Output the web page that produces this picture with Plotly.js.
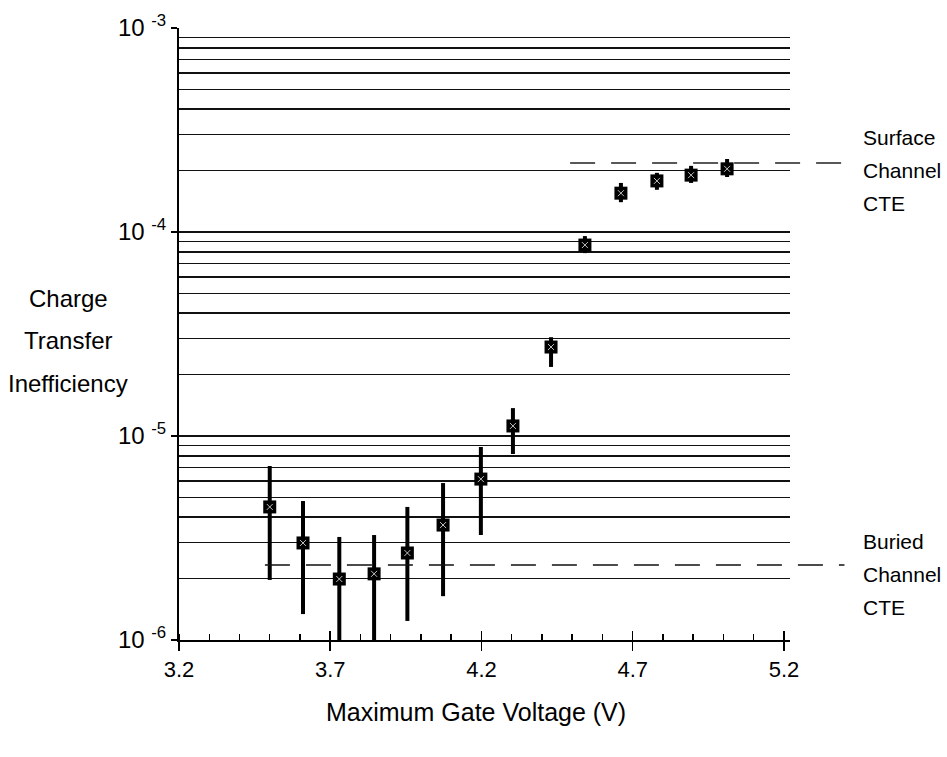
<!DOCTYPE html>
<html>
<head>
<meta charset="utf-8">
<script src="https://cdn.plot.ly/plotly-3.0.1.min.js"></script>
<style>html,body{margin:0;padding:0;background:#fff;}#chart{width:947px;height:757px;}</style>
</head>
<body>
<div id="chart"></div>
<script>
// ---- data ----
const voltage = [3.50, 3.61, 3.73, 3.845, 3.955, 4.073, 4.198, 4.304, 4.43, 4.542, 4.661, 4.780, 4.893, 5.012];
const cte     = [4.49e-6, 2.99e-6, 1.99e-6, 2.11e-6, 2.67e-6, 3.66e-6, 6.15e-6, 1.12e-5, 2.73e-5, 8.63e-5, 1.55e-4, 1.78e-4, 1.90e-4, 2.04e-4];
const cteHigh = [7.13e-6, 4.8e-6, 3.2e-6, 3.27e-6, 4.49e-6, 5.88e-6, 8.83e-6, 1.37e-5, 3.05e-5, 9.55e-5, 1.74e-4, 1.95e-4, 2.11e-4, 2.28e-4];
const cteLow  = [1.97e-6, 1.34e-6, 0.9e-6, 0.9e-6, 1.24e-6, 1.64e-6, 3.27e-6, 8.16e-6, 2.18e-5, 7.88e-5, 1.40e-4, 1.61e-4, 1.74e-4, 1.86e-4];

const surfaceX = [4.493, 5.40];
const surfaceCTE = [2.18e-4, 2.18e-4];
const buriedX = [3.484, 5.40];
const buriedCTE = [2.33e-6, 2.33e-6];

const xTickVals = [3.2, 3.7, 4.2, 4.7, 5.2];
const xTickText = ['3.2', '3.7', '4.2', '4.7', '5.2'];
const yTickVals = [1e-6, 1e-5, 1e-4, 1e-3];
const yTickText = ['10 <sup>-6</sup>', '10 <sup>-5</sup>', '10 <sup>-4</sup>', '10 <sup>-3</sup>'];
const gridMantissa = [2, 3, 4, 5, 6, 7, 8, 9];
const gridDecades = [1e-6, 1e-5, 1e-4];

const yTitleLines = ['Charge', 'Transfer', 'Inefficiency'];
const surfaceLabel = ['Surface', 'Channel', 'CTE'];
const buriedLabel = ['Buried', 'Channel', 'CTE'];
const xTitle = 'Maximum Gate Voltage (V)';

// ---- build ----
const FONT = '"Liberation Sans", Arial, Helvetica, sans-serif';
const minorGrid = [];
gridDecades.forEach(d => gridMantissa.forEach(m => minorGrid.push(m * d)));

const errPlus = cte.map((v, i) => cteHigh[i] - v);
const errMinus = cte.map((v, i) => v - cteLow[i]);

const traces = [
  {
    x: surfaceX, y: surfaceCTE, xaxis: 'x2', yaxis: 'y2', mode: 'lines',
    line: {color: '#222', width: 1.5, dash: '25px,16px'}, hoverinfo: 'skip'
  },
  {
    x: buriedX, y: buriedCTE, xaxis: 'x2', yaxis: 'y2', mode: 'lines',
    line: {color: '#111', width: 1.5, dash: '25px,16px'}, hoverinfo: 'skip'
  },
  {
    x: voltage, y: cte, xaxis: 'x', yaxis: 'y', mode: 'markers',
    marker: {symbol: 'square', size: 13, color: '#000'},
    error_y: {type: 'data', symmetric: false, array: errPlus, arrayminus: errMinus,
              color: '#000', thickness: 4, width: 0}
  },
  {
    x: voltage, y: cte, xaxis: 'x', yaxis: 'y', mode: 'markers',
    marker: {symbol: 'x-thin', size: 6, color: '#fff', line: {color: 'rgba(255,255,255,0.75)', width: 1}},
    hoverinfo: 'skip'
  },
  { x: [], y: [], xaxis: 'x3', yaxis: 'y', mode: 'markers', hoverinfo: 'skip' }
];

const annotations = [];
const W = 666, H = 612, L = 179, T = 28;
const px = x => (x - L) / W;
const py = y => 1 - (y - T) / H;
yTitleLines.forEach((t, i) => annotations.push({
  text: t, xref: 'paper', yref: 'paper', x: px(68), y: py([298, 340, 383][i]),
  xanchor: 'center', yanchor: 'middle', showarrow: false, font: {family: FONT, size: 24, color: '#000'}
}));
surfaceLabel.forEach((t, i) => annotations.push({
  text: t, xref: 'paper', yref: 'paper', x: px(861), y: py([137, 170, 203][i]),
  xanchor: 'left', yanchor: 'middle', showarrow: false, font: {family: FONT, size: 21, color: '#000'}
}));
buriedLabel.forEach((t, i) => annotations.push({
  text: t, xref: 'paper', yref: 'paper', x: px(861), y: py([541, 574, 607][i]),
  xanchor: 'left', yanchor: 'middle', showarrow: false, font: {family: FONT, size: 21, color: '#000'}
}));
annotations.push({
  text: xTitle, xref: 'paper', yref: 'paper', x: px(476), y: py(712),
  xanchor: 'center', yanchor: 'middle', showarrow: false, font: {family: FONT, size: 25, color: '#000'}
});

const xRange = [3.2, 5.22];
const layout = {
  width: 947, height: 757,
  margin: {l: 179, r: 102, t: 28, b: 117, pad: 0},
  paper_bgcolor: '#fff', plot_bgcolor: 'rgba(0,0,0,0)',
  showlegend: false, hovermode: false,
  font: {family: FONT, size: 20, color: '#000'},
  xaxis: {
    domain: [0, 611 / 666], range: xRange, anchor: 'y',
    showline: true, linecolor: '#000', linewidth: 2, showgrid: false, zeroline: false,
    tickmode: 'array', tickvals: xTickVals, ticktext: xTickText,
    ticks: 'outside', ticklen: 9, tickwidth: 1.5, tickcolor: '#000',
    tickfont: {family: FONT, size: 22, color: '#000'},
    minor: {tick0: 3.2, dtick: 0.1, ticks: 'inside', ticklen: 6, tickwidth: 1.5, tickcolor: '#000', showgrid: false}
  },
  xaxis3: {
    overlaying: 'x', anchor: 'y', side: 'bottom', range: xRange,
    showline: false, showgrid: false, zeroline: false, showticklabels: false,
    tickmode: 'array', tickvals: xTickVals, ticks: 'inside', ticklen: 9, tickwidth: 1.5, tickcolor: '#000'
  },
  yaxis: {
    type: 'log', range: [-6, -3], anchor: 'x',
    showline: true, linecolor: '#000', linewidth: 2, zeroline: false,
    tickmode: 'array', tickvals: yTickVals, ticktext: yTickText,
    ticks: 'outside', ticklen: 6, tickwidth: 1.5, tickcolor: '#000',
    tickfont: {family: FONT, size: 24, color: '#000'},
    showgrid: true, gridcolor: '#111', gridwidth: 1.6,
    minor: {tickmode: 'array', tickvals: minorGrid, ticks: '', showgrid: true, gridcolor: '#111', gridwidth: 1.6}
  },
  xaxis2: {domain: [0, 1], range: [3.2, 3.2 + 666 / (611 / 2.02)], anchor: 'y2', visible: false},
  yaxis2: {domain: [0, 1], type: 'log', range: [-6, -3], anchor: 'x2', visible: false},
  annotations: annotations
};

Plotly.newPlot('chart', traces, layout, {staticPlot: true, displayModeBar: false});
</script>
</body>
</html>
